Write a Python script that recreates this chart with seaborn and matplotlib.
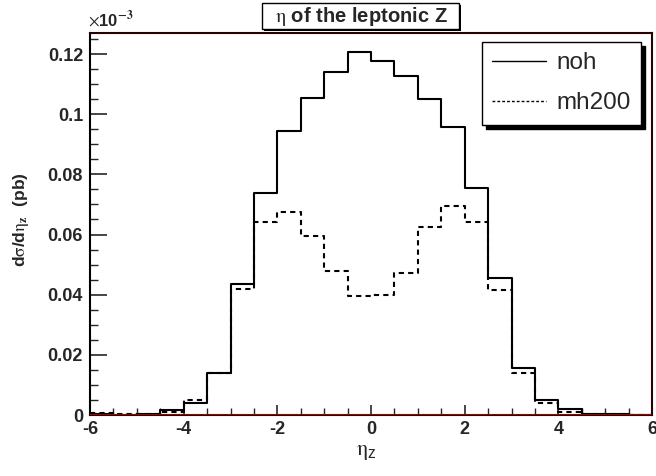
import numpy as np
import matplotlib
matplotlib.use("Agg")
import matplotlib.pyplot as plt
from matplotlib.lines import Line2D
from matplotlib.patches import Rectangle
from matplotlib.ticker import MultipleLocator, FuncFormatter
import seaborn as sns

# bin edges of eta_Z and the two histograms (units of 1e-3 pb)
bin_edges = [-6.0, -5.5, -5.0, -4.5, -4.0, -3.5, -3.0, -2.5, -2.0, -1.5, -1.0, -0.5,
             0.0, 0.5, 1.0, 1.5, 2.0, 2.5, 3.0, 3.5, 4.0, 4.5, 5.0, 5.5, 6.0]
noh = [0.0002, 0.0001, 0.0003, 0.0017, 0.0039, 0.0141, 0.0437, 0.0738, 0.0944, 0.1054,
       0.1139, 0.1206, 0.1176, 0.1127, 0.1050, 0.0956, 0.0755, 0.0454, 0.0155, 0.0050,
       0.0019, 0.0004, 0.0002, 0.0001]
mh200 = [0.0005, 0.0004, 0.0004, 0.0009, 0.0050, 0.0141, 0.0420, 0.0641, 0.0674, 0.0595,
         0.0478, 0.0396, 0.0399, 0.0473, 0.0624, 0.0695, 0.0640, 0.0416, 0.0139, 0.0039,
         0.0011, 0.0003, 0.0002, 0.0001]
series_names = ["noh", "mh200"]

sns.set_style("white")
plt.rcParams["font.family"] = ["Liberation Sans", "DejaVu Sans"]
plt.rcParams["mathtext.fontset"] = "stix"

centers = [(a + b) / 2 for a, b in zip(bin_edges[:-1], bin_edges[1:])]

fig = plt.figure(figsize=(6.56, 4.76), dpi=100)
ax = fig.add_axes([90 / 656, 1 - 415 / 476, 562 / 656, 382 / 476])

sns.histplot(x=centers, weights=noh, bins=bin_edges, element="step", fill=False,
             color="black", linewidth=1.5, ax=ax)
sns.histplot(x=centers, weights=mh200, bins=bin_edges, element="step", fill=False,
             color="black", linewidth=1.5, linestyle=(0, (2.5, 2)), ax=ax)
ax.axhline(0, color="#b00000", linewidth=1.2, zorder=5)

ax.set_xlim(-6, 6)
ax.set_ylim(0, 0.127)
ax.set_xlabel("")
ax.set_ylabel("")

ax.xaxis.set_major_locator(MultipleLocator(2))
ax.xaxis.set_minor_locator(MultipleLocator(0.5))
ax.yaxis.set_major_locator(MultipleLocator(0.02))
ax.yaxis.set_minor_locator(MultipleLocator(0.005))
ax.yaxis.set_major_formatter(FuncFormatter(lambda v, p: f"{v:.2f}".rstrip("0").rstrip(".") if v else "0"))
ax.xaxis.set_major_formatter(FuncFormatter(lambda v, p: f"{v:g}"))

ax.tick_params(axis="y", which="major", direction="in", length=12, width=1.2, pad=5,
               labelsize=13, left=True)
ax.tick_params(axis="y", which="minor", direction="in", length=6, width=1.0, left=True)
ax.tick_params(axis="x", which="major", direction="in", length=7, width=1.2, pad=4,
               labelsize=13, bottom=True)
ax.tick_params(axis="x", which="minor", direction="in", length=5, width=1.0, bottom=True)
for lab in ax.get_xticklabels() + ax.get_yticklabels():
    lab.set_fontweight("bold")

for side in ["left", "right", "top", "bottom"]:
    ax.spines[side].set_linewidth(1.5)
    ax.spines[side].set_color("#2a0000")
ax.spines["left"].set_color("black")

# labels
fig.text(21 / 656, 1 - 220 / 476,
         r"d$\mathrm{\sigma}$/d$\mathrm{\eta}_{\mathbf{z}}$  (pb)",
         rotation=90, ha="center", va="center", fontsize=12.5, fontweight="bold")
fig.text(366 / 656, 1 - 452 / 476, r"$\mathrm{\eta}_{\mathregular{z}}$", ha="center",
         va="center", fontsize=16)
fig.text(88 / 656, 1 - 26 / 476, r"$\times$10$^{\mathbf{-3}}$", ha="left", va="baseline",
         fontsize=12, fontweight="bold")

# title box with shadow
fig.patches.append(Rectangle((264 / 656, 1 - 31 / 476), 197 / 656, 26 / 476,
                             transform=fig.transFigure, facecolor="black", edgecolor="none"))
fig.patches.append(Rectangle((262 / 656, 1 - 29 / 476), 197 / 656, 26 / 476,
                             transform=fig.transFigure, facecolor="white", edgecolor="black",
                             linewidth=1.0))
fig.text(361 / 656, 1 - 16.5 / 476, r"$\mathrm{\eta}$ of the leptonic Z", ha="center",
         va="center", fontsize=14.5, fontweight="bold")

handles = [Line2D([], [], color="black", linewidth=1.0),
           Line2D([], [], color="black", linewidth=1.0, linestyle=(0, (2, 1.5)))]
leg = ax.legend(handles, series_names, loc="upper left",
                bbox_to_anchor=(482 / 656, 1 - 42 / 476), bbox_transform=fig.transFigure,
                fontsize=17.5, frameon=True, fancybox=False, handlelength=2.2,
                handletextpad=0.45, labelspacing=0.75, borderpad=0.42, borderaxespad=0,
                shadow={"ox": 3, "oy": -3, "color": "black", "alpha": 1})
leg.get_frame().set_edgecolor("black")
leg.get_frame().set_linewidth(1.0)

fig.savefig("out.png", dpi=100)
